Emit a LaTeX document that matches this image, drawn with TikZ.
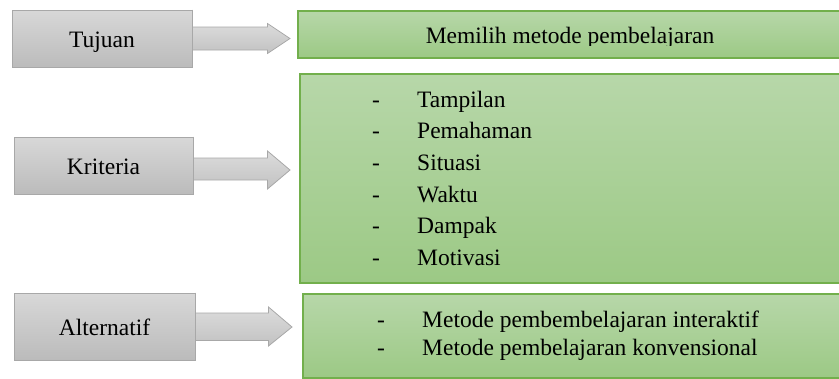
\documentclass[tikz,border=0pt]{standalone}
\usepackage{fontspec}
\setmainfont{Liberation Serif}
\usetikzlibrary{calc}
\definecolor{grayTop}{HTML}{D8D8D8}
\definecolor{grayBot}{HTML}{BBBBBB}
\definecolor{grayLine}{HTML}{A8A8A8}
\definecolor{greenTop}{HTML}{B7D7A9}
\definecolor{greenBot}{HTML}{9CC985}
\definecolor{greenLine}{HTML}{72AF4C}
\begin{document}
\begin{tikzpicture}[x=1pt,y=-1pt,
  font=\fontsize{23.5}{28}\selectfont,
  graybox/.style={draw=grayLine, line width=1pt, top color=grayTop, bottom color=grayBot, inner sep=0pt},
  greenbox/.style={draw=greenLine, line width=1.5pt, top color=greenTop, bottom color=greenBot, inner sep=0pt, anchor=north west},
  blockarrow/.style={draw=grayLine, line width=0.8pt, top color=grayTop!90, bottom color=grayBot!90},
  itemtext/.style={anchor=base west, inner sep=0pt},
  dashtext/.style={anchor=base west, inner sep=0pt}]
\useasboundingbox (0,0) rectangle (839,378);
\clip (0,0) rectangle (839,378);
% gray boxes
\node[graybox, minimum width=180pt, minimum height=57pt] (tuj) at (102,38.5) {};
\node[anchor=base] (tujt) at (102,47) {Tujuan};
\node[graybox, minimum width=179pt, minimum height=57pt] (kri) at (103.5,165.5) {};
\node[anchor=base] (krit) at (103.5,174) {Kriteria};
\node[graybox, minimum width=181pt, minimum height=67pt] (alt) at (104.5,326.5) {};
\node[anchor=base] (altt) at (104.5,335) {Alternatif};
% green boxes
\node[greenbox, minimum width=560pt, minimum height=47pt] (g1) at (297,10) {};
\node[greenbox, minimum width=560pt, minimum height=209pt] (g2) at (299,73) {};
\node[greenbox, minimum width=560pt, minimum height=84pt] (g3) at (302,293) {};
% top text (descenders cut as in reference)
\begin{scope}
\clip (297,10) rectangle (839,45.5);
\node[anchor=base] (t1) at (570,43) {Memilih metode pembelajaran};
\end{scope}
% block arrows
\draw[blockarrow] ($(tuj.east)+(0,-11.5)$) -- ++(75,0) -- ++(0,-3.5) -- ($(g1.west|-tuj.east)+(-7,0)$)
  -- ($(tuj.east)+(75,15)$) -- ++(0,-3.5) -- ($(tuj.east)+(0,11.5)$) -- cycle;
\draw[blockarrow] ($(kri.east)+(0,-7.5)$) -- ++(74,0) -- ++(0,-7) -- ($(g2.west|-kri.east)+(-9,4.5)$)
  -- ($(kri.east)+(74,23.5)$) -- ++(0,-9) -- ($(kri.east)+(0,14.5)$) -- cycle;
\draw[blockarrow] ($(alt.east)+(0,-13.5)$) -- ++(73,0) -- ++(0,-6) -- ($(g3.west|-alt.east)+(-10,0.5)$)
  -- ($(alt.east)+(73,19.5)$) -- ++(0,-5.5) -- ($(alt.east)+(0,14)$) -- cycle;
% redraw box borders over arrow ends
\draw[grayLine, line width=1pt] (tuj.north east) -- (tuj.south east);
\draw[grayLine, line width=1pt] (kri.north east) -- (kri.south east);
\draw[grayLine, line width=1pt] (alt.north east) -- (alt.south east);
% criteria list
\foreach \i/\txt/\yy in {1/Tampilan/107, 2/Pemahaman/138.5, 3/Situasi/170, 4/Waktu/202, 5/Dampak/233.5, 6/Motivasi/265.5}{
  \node[dashtext] (kd\i) at (372,\yy) {-};
  \node[itemtext] (k\i) at (417,\yy) {\txt};
}
% alternatives list
\node[dashtext] (ad1) at (377,327) {-};
\node[itemtext] (a1) at (422,327) {Metode pembembelajaran interaktif};
\node[dashtext] (ad2) at (377,355) {-};
\node[itemtext] (a2) at (422,355) {Metode pembelajaran konvensional};
\end{tikzpicture}
\end{document}
